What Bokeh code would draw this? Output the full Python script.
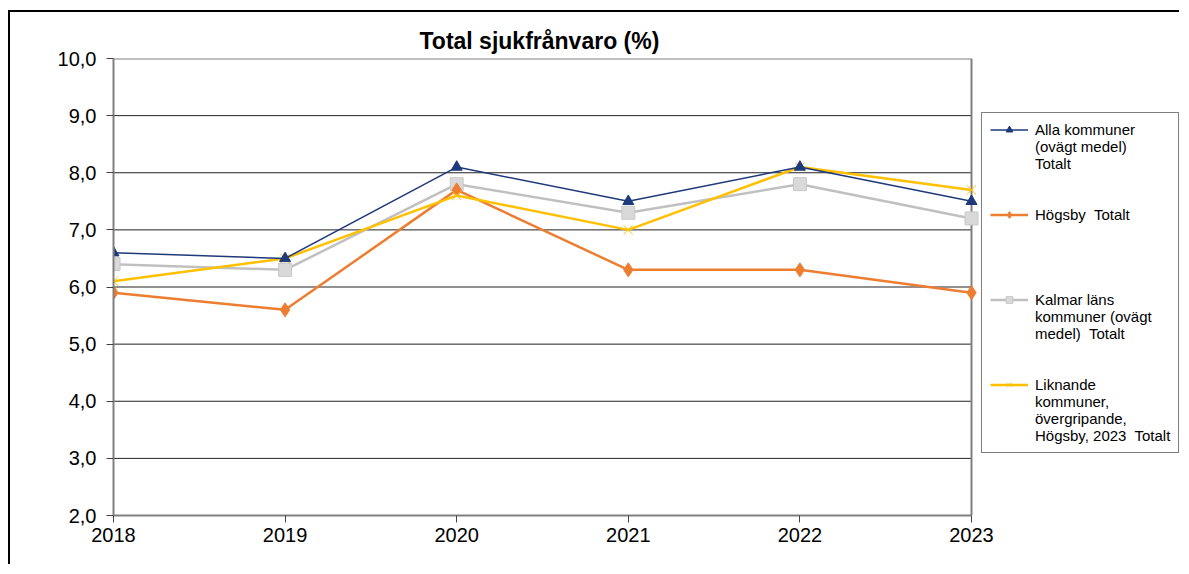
from bokeh.plotting import figure
from bokeh.models import (Legend, LegendItem, FixedTicker, CustomJSTickFormatter,
                          Range1d, ColumnDataSource)
from bokeh.embed import file_html
from bokeh.resources import INLINE

years = [2018, 2019, 2020, 2021, 2022, 2023]
alla = [6.6, 6.5, 8.1, 7.5, 8.1, 7.5]
hogsby = [5.9, 5.6, 7.7, 6.3, 6.3, 5.9]
kalmar = [6.4, 6.3, 7.8, 7.3, 7.8, 7.2]
liknande = [6.1, 6.5, 7.6, 7.0, 8.1, 7.7]
y_ticks = [2, 3, 4, 5, 6, 7, 8, 9, 10]
title_text = "Total sjukfrånvaro (%)"
label_alla = ["Alla kommuner", "(ovägt medel)", "Totalt"]
label_hogsby = ["Högsby  Totalt"]
label_kalmar = ["Kalmar läns", "kommuner (ovägt", "medel)  Totalt"]
label_liknande = ["Liknande", "kommuner,", "övergripande,", "Högsby, 2023  Totalt"]

FONT = "Liberation Sans"

# frame spans 113..1181 px; years 2018..2023 span 113..971 px
x_end = years[0] + (years[-1] - years[0]) * (1181 - 113) / (971 - 113)

p = figure(width=1171, height=554, output_backend="svg", toolbar_location=None,
           x_range=Range1d(years[0], x_end), y_range=Range1d(y_ticks[0], y_ticks[-1]),
           min_border_left=103, min_border_right=0, min_border_top=46, min_border_bottom=51)
p.margin = (10, 0, 0, 8)
p.styles = {"border-left": "2px solid #000", "border-top": "2px solid #000"}

p.title.text = title_text
p.title.align = "left"
p.title.offset = 306
p.title.text_font = FONT
p.title.text_font_size = "23px"
p.title.text_font_style = "bold"
p.title.text_color = "#000000"

p.outline_line_color = None
p.xgrid.visible = False
p.ygrid.visible = False

# horizontal grid lines inside the plot area (2018..2023)
inner = y_ticks[1:-1]
p.segment(x0=[years[0]] * len(inner), x1=[years[-1]] * len(inner), y0=inner, y1=inner,
          line_color="#222222", line_width=1)
# plot area top and right border
p.segment(x0=[years[0], years[-1]], x1=[years[-1], years[-1]],
          y0=[y_ticks[-1], y_ticks[0]], y1=[y_ticks[-1], y_ticks[-1]],
          line_color="#808080", line_width=2)

p.xaxis.ticker = FixedTicker(ticks=years)
p.xaxis.bounds = (years[0], years[-1])
p.yaxis.ticker = FixedTicker(ticks=y_ticks)
p.yaxis.formatter = CustomJSTickFormatter(code="return tick.toFixed(1).replace('.', ',');")
for ax in (p.xaxis, p.yaxis):
    ax.axis_line_color = "#808080"
    ax.axis_line_width = 2
    ax.major_tick_in = 0
    ax.major_tick_out = 7
    ax.minor_tick_line_color = None
    ax.major_tick_line_color = "#444444"
    ax.major_label_text_font = FONT
    ax.major_label_text_font_size = "20px"
    ax.major_label_text_color = "#000000"
p.yaxis.major_label_standoff = 10
p.xaxis.major_label_standoff = 5

navy = "#1F3A7A"
orange = "#ED7D31"
gray = "#C0C0C0"
yellow = "#FFC000"

r_kl = p.line(years, kalmar, line_color=gray, line_width=2.5)
s_kl = p.scatter(years, kalmar, marker="square", size=13, fill_color="#D9D9D9", line_color="#C8C8C8")
r_hb = p.line(years, hogsby, line_color=orange, line_width=2.5)
s_hb = p.scatter(years, hogsby, marker="diamond", size=14, fill_color=orange, line_color=orange)
r_lk = p.line(years, liknande, line_color=yellow, line_width=2.5)
s_lk = p.scatter(years, liknande, marker="x", size=13, line_color=yellow, line_width=1)
r_al = p.line(years, alla, line_color=navy, line_width=1.5)
s_al = p.scatter(years, alla, marker="triangle", size=11, fill_color=navy, line_color=navy)

# invisible renderer for continuation lines of multi-line legend labels
blank = p.line(x="x", y="y", source=ColumnDataSource(data=dict(x=[], y=[])), line_alpha=0)

entries = [
    (label_alla, [r_al, s_al]),
    (label_hogsby, [r_hb, s_hb]),
    (label_kalmar, [r_kl, s_kl]),
    (label_liknande, [r_lk, s_lk]),
]
ROWS = 5
items = []
for i, (lines, rends) in enumerate(entries):
    items.append(LegendItem(label=lines[0], renderers=rends))
    for ln in lines[1:]:
        items.append(LegendItem(label=ln, renderers=[blank]))
    if i < len(entries) - 1:
        for _ in range(ROWS - len(lines)):
            items.append(LegendItem(label=" ", renderers=[blank]))

legend = Legend(items=items, location=(868, 62))
legend.border_line_color = "#000000"
legend.border_line_width = 1
legend.background_fill_color = "#FFFFFF"
legend.background_fill_alpha = 1
legend.label_text_font = FONT
legend.label_text_font_size = "15px"
legend.label_text_color = "#000000"
legend.glyph_width = 38
legend.glyph_height = 17
legend.label_height = 17
legend.label_standoff = 7
legend.spacing = 0
legend.padding = 8
legend.margin = 0
p.add_layout(legend)

open("out.html", "w").write(file_html(p, INLINE))
